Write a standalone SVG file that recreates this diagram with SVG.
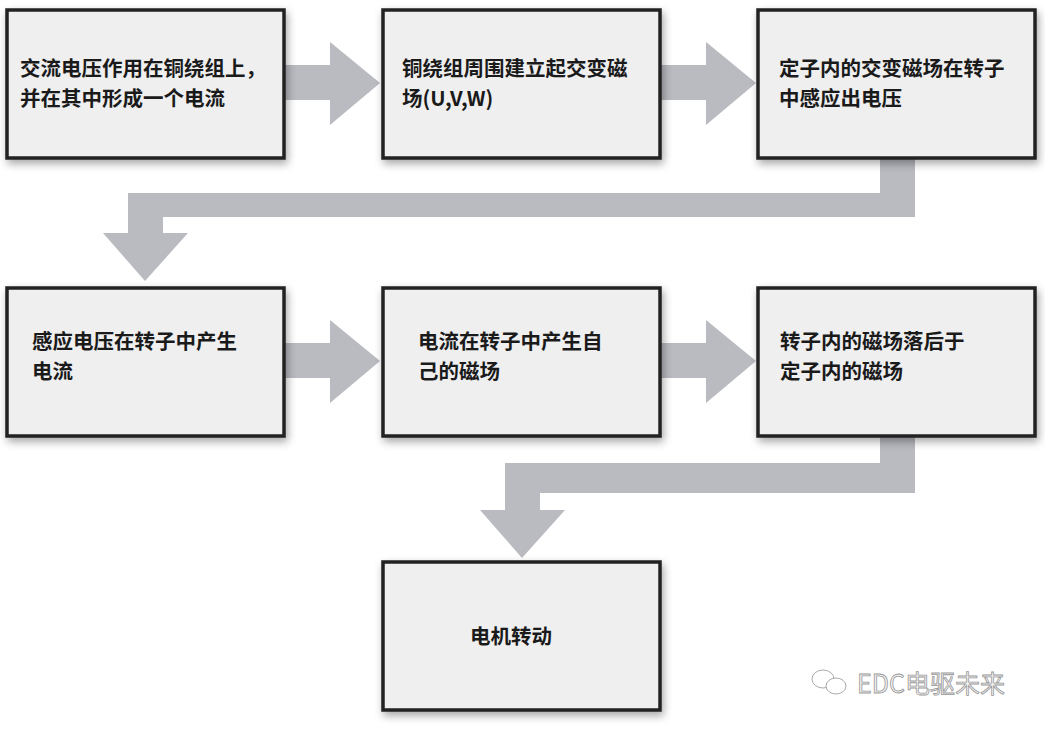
<svg xmlns="http://www.w3.org/2000/svg" width="1045" height="729" viewBox="0 0 1045 729">
<defs>
<filter id="sh" x="-10%" y="-10%" width="125%" height="130%"><feDropShadow dx="2" dy="4" stdDeviation="4" flood-color="#000" flood-opacity="0.35"/></filter>
<style>
.b{fill:#efeff0;stroke:#222;stroke-width:3.5;filter:url(#sh)}
.t{font-family:"Noto Sans CJK SC","Noto Sans",sans-serif;font-size:20.5px;font-weight:bold;fill:#1a1a1a}
.a{fill:#b9bbc1}
</style>
</defs>
<rect width="1045" height="729" fill="#fff"/>
<g id="connectors">
<polygon class="a" points="284,65 330,65 330,42 380,83 330,125 330,100 284,100"/>
<polygon class="a" points="660,65 706,65 706,42 756,83 706,125 706,100 660,100"/>
<polygon class="a" points="284,343 330,343 330,320 380,361 330,403 330,378 284,378"/>
<polygon class="a" points="660,343 706,343 706,320 756,361 706,403 706,378 660,378"/>
<polygon class="a" points="880,158 915,158 915,217 163,217 163,233 188,233 145,281 103,233 128,233 128,193 880,193"/>
<polygon class="a" points="880,436 915,436 915,493 540,493 540,510 565,510 522,558 480,510 505,510 505,463 880,463"/>
</g>
<g id="n1"><rect class="b" x="7" y="10" width="277" height="148"/><text class="t" x="20" y="76">交流电压作用在铜绕组上，</text><text class="t" x="20" y="106">并在其中形成一个电流</text></g>
<g id="n2"><rect class="b" x="383" y="10" width="277" height="148"/><text class="t" x="402" y="76">铜绕组周围建立起交变磁</text><text class="t" x="402" y="106">场(U,V,W)</text></g>
<g id="n3"><rect class="b" x="758" y="10" width="277" height="148"/><text class="t" x="779" y="76">定子内的交变磁场在转子</text><text class="t" x="779" y="106">中感应出电压</text></g>
<g id="n4"><rect class="b" x="7" y="288" width="277" height="148"/><text class="t" x="32" y="349">感应电压在转子中产生</text><text class="t" x="32" y="379">电流</text></g>
<g id="n5"><rect class="b" x="383" y="288" width="277" height="148"/><text class="t" x="418" y="349">电流在转子中产生自</text><text class="t" x="418" y="379">己的磁场</text></g>
<g id="n6"><rect class="b" x="758" y="288" width="277" height="148"/><text class="t" x="780" y="349">转子内的磁场落后于</text><text class="t" x="780" y="379">定子内的磁场</text></g>
<g id="n7"><rect class="b" x="383" y="562" width="277" height="148"/><text class="t" x="470" y="644">电机转动</text></g>
<g id="wm" fill="none" stroke="#aaa" stroke-width="1">
<ellipse cx="823" cy="679" rx="11" ry="9"/><ellipse cx="836" cy="686" rx="10" ry="8" fill="#fff"/>
<text x="857" y="693" font-family="'Noto Sans CJK SC',sans-serif" font-size="25" fill="#f4f4f4" stroke="#999" stroke-width="0.8">EDC电驱未来</text>
</g>
</svg>
